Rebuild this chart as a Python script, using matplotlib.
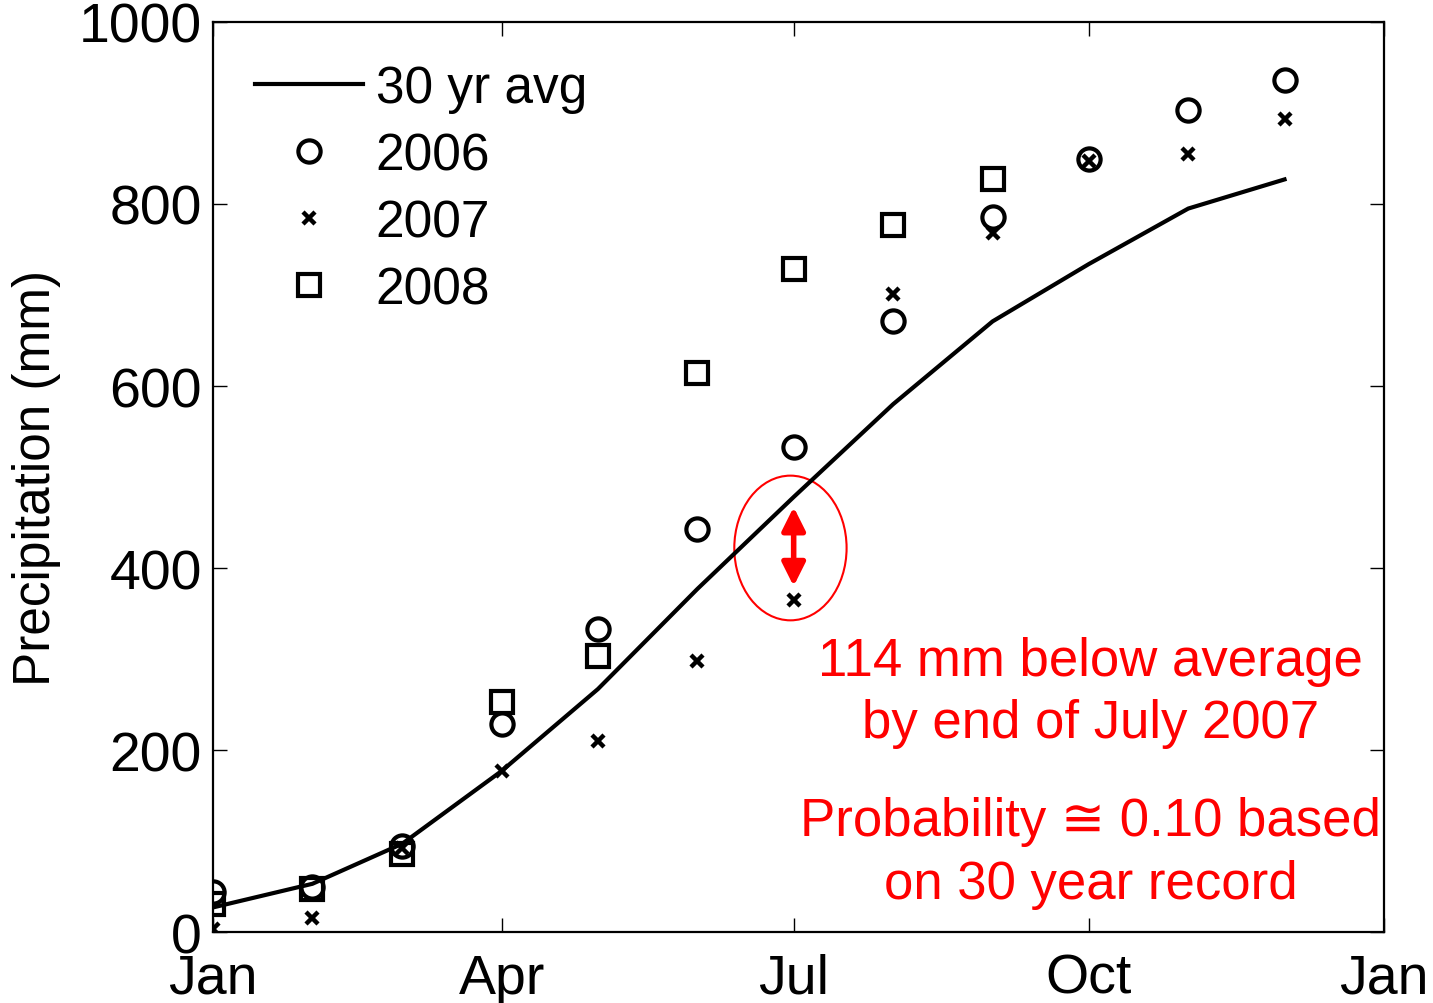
import numpy as np
import matplotlib.pyplot as plt
from matplotlib.patches import Ellipse

plt.rcParams['font.family'] = ['Liberation Sans', 'DejaVu Sans']

# day of year for the first of each month
days = [0, 31, 59, 90, 120, 151, 181, 212, 243, 273, 304, 334]
avg30 = [27, 53, 97, 177, 267, 377, 478, 580, 671, 734, 795, 827]
p2006 = [44, 49, 95, 229, 333, 443, 533, 671, 786, 849, 903, 936]
p2007 = [3, 15, 92, 177, 210, 298, 365, 701, 768, 847, 855, 893]
p2008 = [31, 47, 86, 253, 303, 614, 729, 777, 827]
tick_days = [0, 90, 181, 273, 365]
tick_names = ["Jan", "Apr", "Jul", "Oct", "Jan"]

fig = plt.figure(figsize=(14.33, 10.04), dpi=100)
ax = fig.add_axes([0.1486, 0.0707, 0.8172, 0.9064])

ax.plot(days, avg30, 'k-', lw=3, label="30 yr avg")
ax.plot(days, p2006, 'o', ls='none', mfc='none', mec='k', ms=16, mew=3, label="2006")
ax.plot(days, p2007, 'x', ls='none', mec='k', ms=8.5, mew=3.2, label="2007")
ax.plot(days[:len(p2008)], p2008, 's', ls='none', mfc='none', mec='k', ms=16, mew=3, label="2008")

# highlight July 2007
ax.add_patch(Ellipse((180, 422), 35, 159, fill=False, ec='red', lw=1.5))
ax.annotate("", xy=(181, 380), xytext=(181, 467),
            arrowprops=dict(arrowstyle='<|-|>,head_length=0.7,head_width=0.35',
                            color='red', lw=4, mutation_scale=20,
                            shrinkA=0, shrinkB=0))

txt = dict(color='red', fontsize=38, ha='center', va='center')
ax.text(273.5, 298, "114 mm below average", **txt)
ax.text(273.5, 230, "by end of July 2007", **txt)
ax.text(273.5, 122, "Probability \u2245 0.10 based", **txt)
ax.text(273.5, 53, "on 30 year record", **txt)

ax.set_xlim(0, 365)
ax.set_ylim(0, 1000)
ax.set_xticks(tick_days)
ax.set_xticklabels(tick_names)
ax.set_yticks([0, 200, 400, 600, 800, 1000])
ax.tick_params(direction='in', length=10, width=1, labelsize=40,
               top=True, right=True)
ax.tick_params(axis='x', pad=15)
ax.tick_params(axis='y', pad=8)
for s in ax.spines.values():
    s.set_linewidth(1.6)
ax.set_ylabel("Precipitation (mm)", fontsize=37)
ax.yaxis.set_label_coords(-0.13, 0.5)

ax.legend(loc='upper left', frameon=False, fontsize=37, handlelength=2.1,
          labelspacing=0.35, borderaxespad=0.42, handletextpad=0.25)

plt.savefig("out.png")
plt.close()
